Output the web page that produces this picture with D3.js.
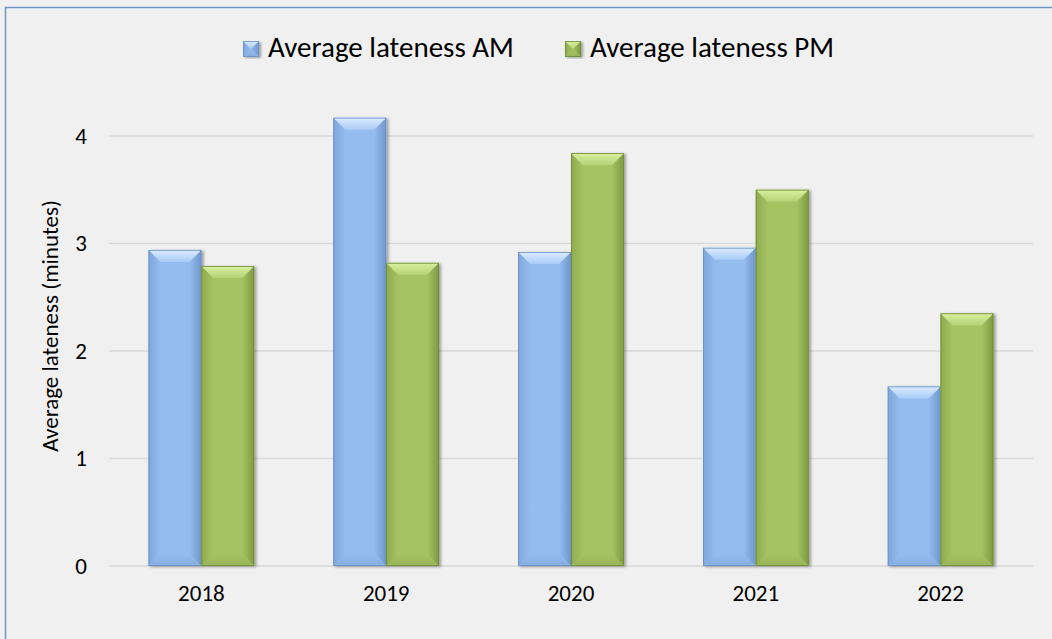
<!DOCTYPE html>
<html>
<head>
<meta charset="utf-8">
<script src="https://cdn.jsdelivr.net/npm/d3@7"></script>
<style>
  html, body { margin: 0; padding: 0; background: #f0f0f0; }
  svg { display: block; }
  text { font-family: Carlito, Lato, "Open Sans", sans-serif; fill: #000; }
</style>
</head>
<body>
<svg id="chart" width="1052" height="639"></svg>
<script>
// Yearly lateness data
const years = ["2018", "2019", "2020", "2021", "2022"];
const amValues = [2.94, 4.17, 2.92, 2.96, 1.67];
const pmValues = [2.79, 2.82, 3.84, 3.50, 2.35];
const seriesNames = ["Average lateness AM", "Average lateness PM"];
const yTicks = [0, 1, 2, 3, 4];
const yTitle = "Average lateness (minutes)";

const W = 1052, H = 639;
const plot = { left: 109, right: 1033, top: 136, bottom: 566 };

const svg = d3.select("#chart");

// Bevel palette for each series: base, top highlight, side/bottom shades, outline
const palettes = [
  { base: "#95bcee", hiTop: "#dcecff", hiBot: "#a9cbf5", side: "#7fa6db", sideR: "#6f96cc", bottom: "#86addf", edge: "#6b8fc4" },
  { base: "#a5c363", hiTop: "#daf0a0", hiBot: "#b5d276", side: "#8eac4e", sideR: "#7e9b41", bottom: "#97b556", edge: "#6e8a36" }
];

const defs = svg.append("defs");
const shadow = defs.append("filter").attr("id", "shadow")
  .attr("x", "-20%").attr("y", "-5%").attr("width", "140%").attr("height", "115%");
shadow.append("feGaussianBlur").attr("in", "SourceAlpha").attr("stdDeviation", 1.6);
shadow.append("feOffset").attr("dx", 2).attr("dy", 1).attr("result", "off");
shadow.append("feComponentTransfer").append("feFuncA").attr("type", "linear").attr("slope", 0.35);
const merge = shadow.append("feMerge");
merge.append("feMergeNode");
merge.append("feMergeNode").attr("in", "SourceGraphic");

palettes.forEach((p, i) => {
  const top = defs.append("linearGradient").attr("id", "top" + i)
    .attr("x1", 0).attr("y1", 0).attr("x2", 0).attr("y2", 1);
  top.append("stop").attr("offset", "0%").attr("stop-color", p.hiTop);
  top.append("stop").attr("offset", "100%").attr("stop-color", p.hiBot);
  const left = defs.append("linearGradient").attr("id", "left" + i)
    .attr("x1", 0).attr("y1", 0).attr("x2", 1).attr("y2", 0);
  left.append("stop").attr("offset", "0%").attr("stop-color", p.side);
  left.append("stop").attr("offset", "100%").attr("stop-color", p.base);
  const right = defs.append("linearGradient").attr("id", "right" + i)
    .attr("x1", 0).attr("y1", 0).attr("x2", 1).attr("y2", 0);
  right.append("stop").attr("offset", "0%").attr("stop-color", p.base);
  right.append("stop").attr("offset", "100%").attr("stop-color", p.sideR);
  const bot = defs.append("linearGradient").attr("id", "bot" + i)
    .attr("x1", 0).attr("y1", 0).attr("x2", 0).attr("y2", 1);
  bot.append("stop").attr("offset", "0%").attr("stop-color", p.base);
  bot.append("stop").attr("offset", "100%").attr("stop-color", p.bottom);
});

// Chart frame (runs off the right and bottom edges)
svg.append("rect")
  .attr("x", 5.5).attr("y", 7.5).attr("width", W + 10).attr("height", H + 10)
  .attr("fill", "#f0f0f0").attr("stroke", "#6f93c6").attr("stroke-width", 1.5);

const x0 = d3.scaleBand().domain(years).range([plot.left, plot.right]).paddingInner(0).paddingOuter(0);
// Two bars per category with 150% gap width
const barW = x0.bandwidth() / 3.5;
const y = d3.scaleLinear().domain([0, 4]).range([plot.bottom, plot.top]);

// Gridlines
svg.append("g").selectAll("line").data(yTicks).join("line")
  .attr("x1", plot.left).attr("x2", plot.right)
  .attr("y1", d => y(d)).attr("y2", d => y(d))
  .attr("stroke", "#d9d9d9").attr("stroke-width", 1.5);

// Y axis tick labels
const yAxis = d3.axisLeft(y).tickValues(yTicks).tickSize(0).tickPadding(22).tickFormat(d3.format("d"));
svg.append("g").attr("transform", `translate(${plot.left},0)`).call(yAxis)
  .call(g => g.select(".domain").remove())
  .call(g => g.selectAll("text").attr("font-size", 23).attr("font-family", null).attr("fill", "#000"));

// X axis category labels
const xAxis = d3.axisBottom(x0).tickSize(0).tickPadding(19);
svg.append("g").attr("transform", `translate(0,${plot.bottom})`).call(xAxis)
  .call(g => g.select(".domain").remove())
  .call(g => g.selectAll("text").attr("font-size", 23).attr("font-family", null).attr("fill", "#000"));

// Y axis title
svg.append("text")
  .attr("transform", `translate(58,${(plot.top + plot.bottom) / 2 - 25}) rotate(-90)`)
  .attr("text-anchor", "middle").attr("font-size", 23).text(yTitle);

// Bevelled bar drawing
function bevelBar(g, x, yTop, w, h, si) {
  const b = Math.min(12, h / 2, w / 2);
  const grp = g.append("g").attr("filter", "url(#shadow)");
  grp.append("rect").attr("x", x).attr("y", yTop).attr("width", w).attr("height", h)
    .attr("fill", palettes[si].base);
  const pts = a => a.map(p => p.join(",")).join(" ");
  grp.append("polygon").attr("points", pts([[x, yTop], [x + b, yTop + b], [x + b, yTop + h - b], [x, yTop + h]]))
    .attr("fill", `url(#left${si})`);
  grp.append("polygon").attr("points", pts([[x + w, yTop], [x + w - b, yTop + b], [x + w - b, yTop + h - b], [x + w, yTop + h]]))
    .attr("fill", `url(#right${si})`);
  grp.append("polygon").attr("points", pts([[x, yTop + h], [x + b, yTop + h - b], [x + w - b, yTop + h - b], [x + w, yTop + h]]))
    .attr("fill", `url(#bot${si})`);
  grp.append("polygon").attr("points", pts([[x, yTop], [x + w, yTop], [x + w - b, yTop + b], [x + b, yTop + b]]))
    .attr("fill", `url(#top${si})`);
  grp.append("rect").attr("x", x + 0.4).attr("y", yTop + 0.4).attr("width", w - 0.8).attr("height", h - 0.8)
    .attr("fill", "none").attr("stroke", palettes[si].edge).attr("stroke-width", 0.8);
}

const bars = svg.append("g");
years.forEach((yr, i) => {
  const cx = x0(yr) + x0.bandwidth() / 2;
  [amValues[i], pmValues[i]].forEach((v, si) => {
    const bx = si === 0 ? cx - barW : cx;
    bevelBar(bars, bx, y(v), barW, y(0) - y(v), si);
  });
});

// Legend
const legend = svg.append("g");
const legendItems = [{ x: 243, name: seriesNames[0] }, { x: 565, name: seriesNames[1] }];
legendItems.forEach((it, si) => {
  const g = legend.append("g");
  const s = 16, top = 41;
  bevelBar(g, it.x, top, s, s, si);
  g.append("text").attr("x", it.x + 25).attr("y", 57).attr("font-size", 29).text(it.name);
});
</script>
</body>
</html>
